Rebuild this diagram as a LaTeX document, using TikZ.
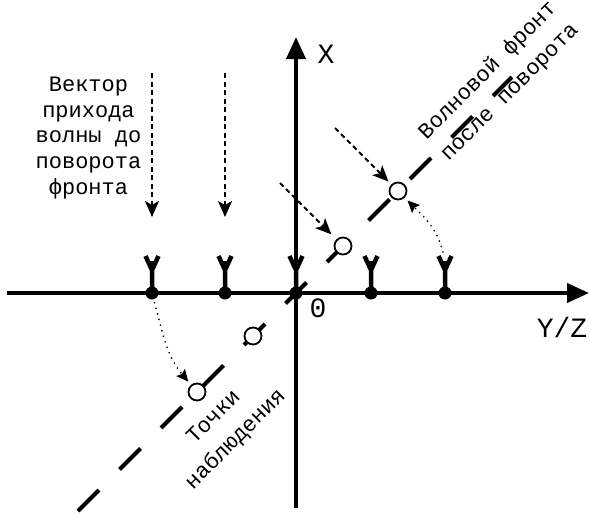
\documentclass[tikz,border=0pt]{standalone}
\usepackage{fontspec}
\setmainfont{Liberation Mono}
\usetikzlibrary{arrows.meta}
\begin{document}
\begin{tikzpicture}[x=1pt,y=-1pt,
  axis/.style={line width=4pt, -{Triangle[length=22pt,width=19pt]}},
  sdot/.style={circle, fill=black, inner sep=0pt, minimum size=13pt},
  obs/.style={circle, draw=black, line width=1.8pt, fill=white, inner sep=0pt, minimum size=17pt},
  front/.style={line width=4pt, dash pattern=on 29.7pt off 29pt},
  dasharr/.style={line width=1.8pt, dash pattern=on 5pt off 3.5pt, -{Stealth[length=16pt,width=14pt,inset=4pt]}},
  dotarr/.style={line width=1.9pt, dash pattern=on 0pt off 5.8pt, line cap=round, -{Stealth[length=12pt,width=11pt,inset=2pt]}},
  lbl/.style={font=\fontsize{22}{25.75}\selectfont, align=center, inner sep=0pt},
  rlbl/.style={font=\fontsize{22}{31}\selectfont, align=center, inner sep=0pt, rotate=45},
  axlbl/.style={font=\fontsize{28}{30}\selectfont, inner sep=0pt},
  antenna/.pic={\draw[line width=4.5pt] (0,0)--(0,-25) (0,-23)--(-6.5,-37) (0,-23)--(6.5,-37) (0,-23)--(0,-32);}
]
\useasboundingbox (0,0) rectangle (590,515);

% axes
\coordinate (xb) at (296,508);
\coordinate (xt) at (296,37);
\coordinate (yl) at (7,293);
\coordinate (yr) at (589,293);
\draw[axis] (yl) -- (yr);
\draw[axis] (xb) -- (xt);
\node[axlbl] (lx) at (326,54) {X};
\node[axlbl] (lyz) at (562,327) {Y/Z};
\node[axlbl] (l0) at (318,308) {0};

% wave front after rotation
\coordinate (f1) at (78,511);
\coordinate (f2) at (512,77);
\draw[front] (f1) -- (f2);

% observation points
\node[obs] (c1) at (197,392) {};
\node[obs] (c2) at (253,336) {};
\node[obs] (c3) at (343,246) {};
\node[obs] (c4) at (398,191) {};

% sensors
\foreach \n/\x in {1/152,2/225,3/296,4/371,5/445}{
  \node[sdot] (s\n) at (\x,293) {};
  \pic at (\x,293) {antenna};
}

% arrival vectors before rotation
\draw[dasharr] ([yshift=220pt]s1.center) -- ([yshift=76pt]s1.center);
\draw[dasharr] ([yshift=220pt]s2.center) -- ([yshift=76pt]s2.center);

% arrival vectors after rotation
\coordinate (d1) at (280,183);
\coordinate (d2) at (335,128);
\draw[dasharr, shorten >=7pt] (d1) -- (c3);
\draw[dasharr, shorten >=4pt] (d2) -- (c4);

% projections
\draw[dotarr, shorten <=10pt, shorten >=4pt] (s1.center) to[out=-75,in=130] (c1);
\draw[dotarr, shorten >=4pt] ([shift={(-2pt,41pt)}]s5.center) to[out=105,in=-45] (c4);

% labels
\node[lbl] (t1) at (88.5,138) {Вектор\\прихода\\волны до\\поворота\\фронта};
\node[rlbl] (t2) at (498.9,81.6) {Волновой фронт\\после поворота};
\node[rlbl] (t3) at (225.3,429) {Точки\\наблюдения};
\end{tikzpicture}
\end{document}
